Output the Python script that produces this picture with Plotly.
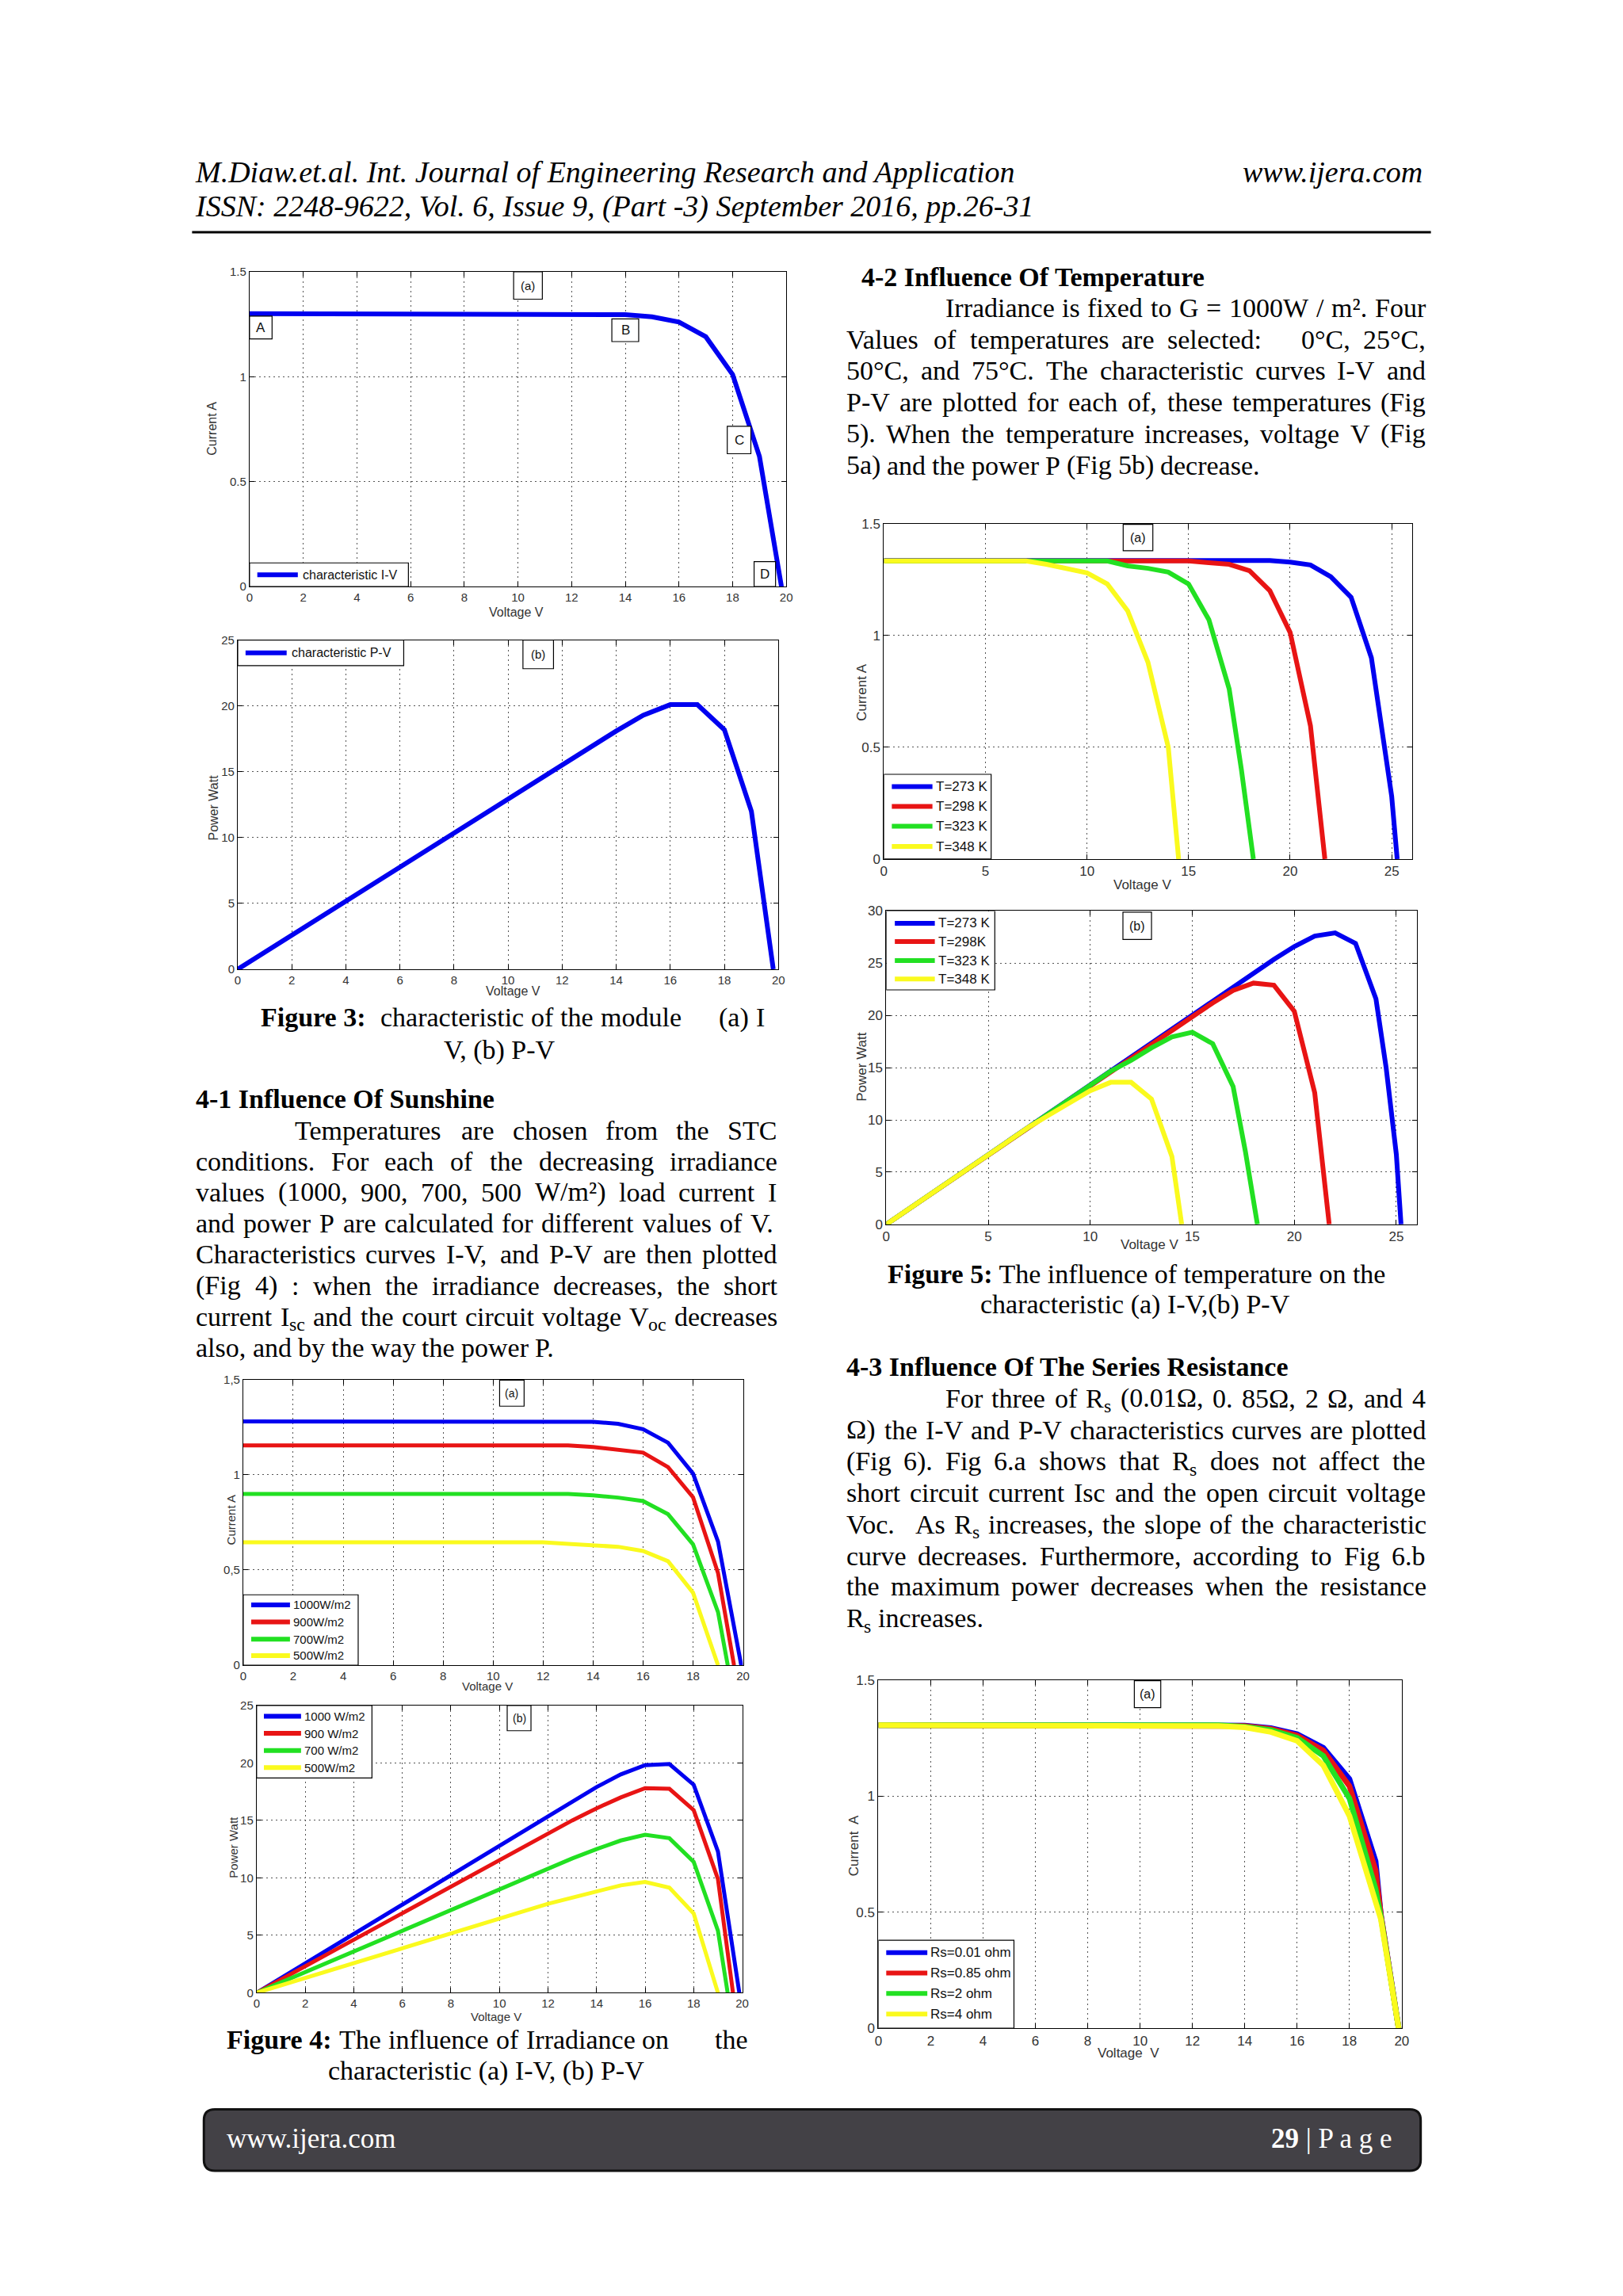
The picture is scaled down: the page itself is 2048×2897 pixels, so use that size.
import re
import plotly.graph_objects as go

W, H = 2048, 2897
SERIF = "Liberation Serif"
SANS = "Liberation Sans"
BLUE, RED, GREEN, YELLOW = "#0000f0", "#e81414", "#22e022", "#fafa1e"

# ---------------- data ----------------
# Figure 3 (a) I-V of the module
mod_iv_v = [0, 1, 2, 3, 4, 5, 6, 7, 8, 9, 10, 11, 12, 13, 14, 15, 16, 17, 18, 19, 19.82]
mod_iv_i = [1.30, 1.30, 1.30, 1.30, 1.30, 1.30, 1.30, 1.30, 1.30, 1.30, 1.30, 1.30, 1.30, 1.30,
            1.295, 1.285, 1.26, 1.19, 1.01, 0.62, 0.0]
# Figure 3 (b) P-V of the module
mod_pv_v = [0, 1, 2, 3, 4, 5, 6, 7, 8, 9, 10, 11, 12, 13, 14, 15, 16, 17, 18, 19, 19.81]
mod_pv_p = [0, 1.3, 2.6, 3.9, 5.2, 6.5, 7.8, 9.1, 10.4, 11.7, 13.0, 14.3, 15.6, 16.9,
            18.1, 19.3, 20.1, 20.1, 18.2, 12.0, 0.0]

# Figure 4 (a) I-V for irradiance
irr_labels_a = ["1000W/m2", "900W/m2", "700W/m2", "500W/m2"]
irr_iv_v_1000 = [0, 1, 2, 3, 4, 5, 6, 7, 8, 9, 10, 11, 12, 13, 14, 15, 16, 17, 18, 19, 19.93]
irr_iv_i_1000 = [1.28, 1.28, 1.28, 1.28, 1.28, 1.28, 1.28, 1.28, 1.28, 1.28, 1.28, 1.28, 1.28, 1.28,
                 1.278, 1.267, 1.239, 1.168, 1.006, 0.649, 0.0]
irr_iv_v_900 = [0, 1, 2, 3, 4, 5, 6, 7, 8, 9, 10, 11, 12, 13, 14, 15, 16, 17, 18, 19, 19.64]
irr_iv_i_900 = [1.154, 1.154, 1.154, 1.154, 1.154, 1.154, 1.154, 1.154, 1.154, 1.154, 1.154, 1.154,
                1.154, 1.154, 1.146, 1.132, 1.116, 1.04, 0.882, 0.484, 0.0]
irr_iv_v_700 = [0, 1, 2, 3, 4, 5, 6, 7, 8, 9, 10, 11, 12, 13, 14, 15, 16, 17, 18, 19, 19.39]
irr_iv_i_700 = [0.899, 0.899, 0.899, 0.899, 0.899, 0.899, 0.899, 0.899, 0.899, 0.899, 0.899, 0.899,
                0.899, 0.899, 0.892, 0.88, 0.862, 0.793, 0.635, 0.279, 0.0]
irr_iv_v_500 = [0, 1, 2, 3, 4, 5, 6, 7, 8, 9, 10, 11, 12, 13, 14, 15, 16, 17, 18, 19]
irr_iv_i_500 = [0.645, 0.645, 0.645, 0.645, 0.645, 0.645, 0.645, 0.645, 0.645, 0.645, 0.645, 0.645,
                0.645, 0.637, 0.631, 0.622, 0.60, 0.546, 0.381, 0.0]

# Figure 4 (b) P-V for irradiance
irr_labels_b = ["1000 W/m2", "900 W/m2", "700 W/m2", "500W/m2"]
irr_pv_v_1000 = [0, 1, 2, 3, 4, 5, 6, 7, 8, 9, 10, 11, 12, 13, 14, 15, 16, 17, 18, 19, 19.88]
irr_pv_p_1000 = [0, 1.28, 2.56, 3.84, 5.12, 6.4, 7.68, 8.96, 10.24, 11.52, 12.8, 14.08, 15.36, 16.64,
                 17.9, 19.0, 19.8, 19.9, 18.1, 12.3, 0.0]
irr_pv_v_900 = [0, 1, 2, 3, 4, 5, 6, 7, 8, 9, 10, 11, 12, 13, 14, 15, 16, 17, 18, 19, 19.62]
irr_pv_p_900 = [0, 1.15, 2.31, 3.46, 4.62, 5.77, 6.92, 8.08, 9.23, 10.39, 11.54, 12.69, 13.85, 15.0,
                16.05, 17.0, 17.8, 17.75, 15.9, 9.9, 0.0]
irr_pv_v_700 = [0, 1, 2, 3, 4, 5, 6, 7, 8, 9, 10, 11, 12, 13, 14, 15, 16, 17, 18, 19, 19.4]
irr_pv_p_700 = [0, 0.9, 1.8, 2.7, 3.6, 4.5, 5.39, 6.29, 7.19, 8.09, 8.99, 9.89, 10.79, 11.69,
                12.5, 13.25, 13.75, 13.45, 11.4, 5.4, 0.0]
irr_pv_v_500 = [0, 1, 2, 3, 4, 5, 6, 7, 8, 9, 10, 11, 12, 13, 14, 15, 16, 17, 18, 19]
irr_pv_p_500 = [0, 0.645, 1.29, 1.94, 2.58, 3.23, 3.87, 4.52, 5.16, 5.81, 6.45, 7.1, 7.74, 8.28,
                8.85, 9.35, 9.65, 9.15, 6.9, 0.0]

# Figure 5 (a) I-V for temperature
tmp_labels_a = ["T=273 K", "T=298 K", "T=323 K", "T=348 K"]
tmp_iv_v_273 = [0, 1, 2, 3, 4, 5, 6, 7, 8, 9, 10, 11, 12, 13, 14, 15, 16, 17, 18, 19, 20, 21, 22, 23,
                24, 24.5, 25, 25.27]
tmp_iv_i_273 = [1.335, 1.335, 1.335, 1.335, 1.335, 1.335, 1.335, 1.335, 1.335, 1.335, 1.335, 1.335,
                1.335, 1.335, 1.335, 1.335, 1.335, 1.335, 1.335, 1.335, 1.328, 1.315, 1.263, 1.171,
                0.90, 0.60, 0.28, 0.0]
tmp_iv_v_298 = [0, 1, 2, 3, 4, 5, 6, 7, 8, 9, 10, 11, 12, 13, 14, 15, 16, 17, 18, 19, 20, 21, 21.71]
tmp_iv_i_298 = [1.333, 1.333, 1.333, 1.333, 1.333, 1.333, 1.333, 1.333, 1.333, 1.333, 1.333, 1.333,
                1.333, 1.333, 1.333, 1.333, 1.325, 1.318, 1.289, 1.20, 1.013, 0.596, 0.0]
tmp_iv_v_323 = [0, 1, 2, 3, 4, 5, 6, 7, 8, 9, 10, 11, 12, 13, 14, 15, 16, 17, 17.6, 18.19]
tmp_iv_i_323 = [1.333, 1.333, 1.333, 1.333, 1.333, 1.333, 1.333, 1.333, 1.333, 1.333, 1.333, 1.333,
                1.311, 1.30, 1.283, 1.23, 1.07, 0.76, 0.40, 0.0]
tmp_iv_v_348 = [0, 1, 2, 3, 4, 5, 6, 7, 8, 9, 10, 11, 12, 13, 14, 14.51]
tmp_iv_i_348 = [1.333, 1.333, 1.333, 1.333, 1.333, 1.333, 1.333, 1.333, 1.318, 1.30, 1.28, 1.23,
                1.11, 0.88, 0.50, 0.0]

# Figure 5 (b) P-V for temperature
tmp_labels_b = ["T=273 K", "T=298K", "T=323 K", "T=348 K"]
tmp_pv_v_273 = [0, 1, 2, 3, 4, 5, 6, 7, 8, 9, 10, 11, 12, 13, 14, 15, 16, 17, 18, 19, 20, 21, 22, 23,
                24, 24.5, 25, 25.23]
tmp_pv_p_273 = [0, 1.34, 2.67, 4.01, 5.34, 6.68, 8.01, 9.35, 10.68, 12.02, 13.35, 14.69, 16.02, 17.36,
                18.69, 20.03, 21.36, 22.7, 24.03, 25.37, 26.6, 27.6, 27.9, 26.9, 21.6, 15.0, 6.7, 0.0]
tmp_pv_v_298 = [0, 1, 2, 3, 4, 5, 6, 7, 8, 9, 10, 11, 12, 13, 14, 15, 16, 17, 18, 19, 20, 21, 21.71]
tmp_pv_p_298 = [0, 1.33, 2.67, 4.0, 5.33, 6.67, 8.0, 9.33, 10.66, 12.0, 13.33, 14.66, 16.0, 17.33,
                18.66, 20.0, 21.2, 22.4, 23.1, 22.9, 20.4, 12.6, 0.0]
tmp_pv_v_323 = [0, 1, 2, 3, 4, 5, 6, 7, 8, 9, 10, 11, 12, 13, 14, 15, 16, 17, 17.6, 18.19]
tmp_pv_p_323 = [0, 1.33, 2.67, 4.0, 5.33, 6.67, 8.0, 9.33, 10.66, 12.0, 13.33, 14.66, 15.7, 16.9,
                17.95, 18.4, 17.3, 13.2, 7.0, 0.0]
tmp_pv_v_348 = [0, 1, 2, 3, 4, 5, 6, 7, 8, 9, 10, 11, 12, 13, 14, 14.48]
tmp_pv_p_348 = [0, 1.33, 2.67, 4.0, 5.33, 6.67, 8.0, 9.33, 10.5, 11.7, 12.8, 13.6, 13.6, 12.0, 6.5, 0.0]

# Figure 6 (a) I-V for series resistance
rs_labels = ["Rs=0.01 ohm", "Rs=0.85 ohm", "Rs=2 ohm", "Rs=4 ohm"]
rs_v = [0, 1, 2, 3, 4, 5, 6, 7, 8, 9, 10, 11, 12, 13, 14, 15, 16, 17, 18, 19, 19.2, 19.88]
rs_i_001 = [1.306, 1.306, 1.306, 1.306, 1.306, 1.306, 1.306, 1.306, 1.306, 1.306, 1.306, 1.306,
            1.306, 1.306, 1.305, 1.294, 1.268, 1.209, 1.074, 0.72, 0.49, 0.0]
rs_i_085 = [1.306, 1.306, 1.306, 1.306, 1.306, 1.306, 1.306, 1.306, 1.306, 1.306, 1.306, 1.306,
            1.306, 1.306, 1.303, 1.29, 1.262, 1.197, 1.044, 0.68, 0.49, 0.0]
rs_i_2 = [1.306, 1.306, 1.306, 1.306, 1.306, 1.306, 1.306, 1.306, 1.306, 1.306, 1.306, 1.306,
          1.306, 1.306, 1.30, 1.285, 1.252, 1.174, 0.991, 0.60, 0.48, 0.0]
rs_i_4 = [1.306, 1.306, 1.306, 1.306, 1.306, 1.306, 1.306, 1.306, 1.306, 1.306, 1.306, 1.306,
          1.306, 1.303, 1.297, 1.277, 1.239, 1.133, 0.915, 0.53, 0.47, 0.0]

x_ticks_20 = [0, 2, 4, 6, 8, 10, 12, 14, 16, 18, 20]
x_ticks_25 = [0, 5, 10, 15, 20, 25]
i_ticks = [0, 0.5, 1, 1.5]
i_ticks_comma = ["0", "0,5", "1", "1,5"]
p_ticks_25 = [0, 5, 10, 15, 20, 25]
p_ticks_30 = [0, 5, 10, 15, 20, 25, 30]

# ---------------- helpers ----------------
TIMES = {' ': 250, '!': 333, '"': 408, '%': 833, '&': 778, "'": 180, '(': 333, ')': 333, '+': 564,
         ',': 250, '-': 333, '.': 250, '/': 278, ':': 278, ';': 278, '=': 564, '?': 444,
         'A': 722, 'B': 667, 'C': 667, 'D': 722, 'E': 611, 'F': 556, 'G': 722, 'H': 722, 'I': 333,
         'J': 389, 'K': 722, 'L': 611, 'M': 889, 'N': 722, 'O': 722, 'P': 556, 'Q': 722, 'R': 667,
         'S': 556, 'T': 611, 'U': 722, 'V': 722, 'W': 944, 'X': 722, 'Y': 722, 'Z': 611,
         'a': 444, 'b': 500, 'c': 444, 'd': 500, 'e': 444, 'f': 333, 'g': 500, 'h': 500, 'i': 278,
         'j': 278, 'k': 500, 'l': 278, 'm': 778, 'n': 500, 'o': 500, 'p': 500, 'q': 500, 'r': 333,
         's': 389, 't': 278, 'u': 500, 'v': 500, 'w': 722, 'x': 500, 'y': 500, 'z': 444,
         '\u00b0': 400, '\u00b2': 300, '\u03a9': 768, '\u00a0': 250}
TIMES_BOLD = {'F': 611, 'i': 278, 'g': 500, 'u': 556, 'r': 444, 'e': 444, ' ': 250, '\u00a0': 250,
              ':': 333}


def text_width(s, size):
    total, scale, bold = 0.0, 1.0, False
    for part in re.split(r'(<[^>]+>)', s):
        if part.startswith('<'):
            tag = part.strip('<>/').lower()
            closing = part.startswith('</')
            if tag in ('sub', 'sup'):
                scale = 1.0 if closing else 0.7
            if tag == 'b':
                bold = not closing
            continue
        for ch in part:
            w = TIMES_BOLD.get(ch) if bold else None
            if w is None:
                w = TIMES.get(ch, 500)
            total += w * scale
    return total * size / 1000.0


fig = go.Figure()
layout = dict(width=W, height=H, margin=dict(l=0, r=0, t=0, b=0), paper_bgcolor='white',
              plot_bgcolor='white', showlegend=False)
annotations = []
shapes = []


def ax_ids(n):
    return ('x', 'y') if n == 1 else (f'x{n}', f'y{n}')


def setup_axes(n, box, xrange, xticks, yrange, yticks, yticktext=None, fsize=15):
    l, r, t, b = box
    xid, yid = ax_ids(n)
    common = dict(showline=True, linecolor='black', linewidth=1, mirror='ticks', ticks='inside',
                  ticklen=6, tickwidth=1, tickcolor='black', showgrid=True, gridcolor='#555555',
                  gridwidth=1, griddash='2px,4px', zeroline=False, fixedrange=True,
                  tickfont=dict(family=SANS, size=fsize, color='#333333'))
    layout['xaxis' if n == 1 else f'xaxis{n}'] = dict(domain=[l / W, r / W], range=xrange,
                                                      tickmode='array', tickvals=xticks,
                                                      anchor=yid, **common)
    yd = dict(domain=[1 - b / H, 1 - t / H], range=yrange, tickmode='array', tickvals=yticks,
              anchor=xid, **common)
    if yticktext:
        yd['ticktext'] = yticktext
    layout['yaxis' if n == 1 else f'yaxis{n}'] = yd


def add_line(n, xs, ys, color, name, width=6):
    xid, yid = ax_ids(n)
    fig.add_trace(go.Scatter(x=xs, y=ys, mode='lines', name=name, xaxis=xid, yaxis=yid,
                             line=dict(color=color, width=width), hoverinfo='skip'))


def ptext(x, y, s, size, anchor='left', family=SERIF, color='black', angle=0):
    annotations.append(dict(x=x / W, y=1 - y / H, xref='paper', yref='paper', text=s,
                            showarrow=False, xanchor=anchor, yanchor='middle', textangle=angle,
                            borderpad=0, font=dict(family=family, size=size, color=color)))


def atext(n, x, y, s, size, anchor='left'):
    xid, yid = ax_ids(n)
    annotations.append(dict(x=x, y=y, xref=xid, yref=yid, text=s, showarrow=False,
                            xanchor=anchor, yanchor='middle', borderpad=0,
                            font=dict(family=SANS, size=size, color='#111111')))


def legend_box(n, box, line_x, text_x, items, size):
    xid, yid = ax_ids(n)
    x0, x1, y0, y1 = box
    shapes.append(dict(type='rect', xref=xid, yref=yid, x0=x0, x1=x1, y0=y0, y1=y1,
                       fillcolor='white', line=dict(color='black', width=1.2), layer='above'))
    for label, color, yc in items:
        shapes.append(dict(type='line', xref=xid, yref=yid, x0=line_x[0], x1=line_x[1], y0=yc,
                           y1=yc, line=dict(color=color, width=6), layer='above'))
        atext(n, text_x, yc, label, size)


def tag_box(n, box, label, size):
    xid, yid = ax_ids(n)
    x0, x1, y0, y1 = box
    shapes.append(dict(type='rect', xref=xid, yref=yid, x0=x0, x1=x1, y0=y0, y1=y1,
                       fillcolor='white', line=dict(color='black', width=1.2), layer='above'))
    atext(n, (x0 + x1) / 2, (y0 + y1) / 2, label, size, anchor='center')


def place_word(w, x, y, size):
    """Draw one word; subscript parts become their own smaller, lowered text."""
    for k, seg in enumerate(re.split(r'<sub>(.*?)</sub>', w)):
        if not seg:
            continue
        if k % 2 == 1:
            ptext(x, y + 10, seg, size * 0.7)
            x += text_width(seg, size * 0.7)
        else:
            ptext(x, y, seg, size)
            x += text_width(seg, size)


def para_line(s, x0, x1, y, size=34, justify=True):
    words = s.split(' ')
    ws = [text_width(w, size) for w in words]
    if justify and len(words) > 1:
        gap = (x1 - x0 - sum(ws)) / (len(words) - 1)
    else:
        gap = text_width(' ', size)
    x = x0
    for w, wd in zip(words, ws):
        if w:
            place_word(w, x, y, size)
        x += wd + gap


# ---------------- axes boxes (left, right, top, bottom) in page pixels ----------------
BOX = {
    1: (312, 994, 336, 736),
    2: (297, 984, 804, 1222),
    3: (304, 939, 1743, 2106),
    4: (321, 938, 2157, 2522),
    5: (1118, 1789, 656, 1082),
    6: (1121, 1795, 1148, 1546),
    7: (1111, 1776, 2125, 2567),
}

setup_axes(1, BOX[1], [0, 20], x_ticks_20, [0, 1.5], i_ticks, fsize=15)
setup_axes(2, BOX[2], [0, 20], x_ticks_20, [0, 25], p_ticks_25, fsize=15)
setup_axes(3, BOX[3], [0, 20], x_ticks_20, [0, 1.5], i_ticks, yticktext=i_ticks_comma, fsize=15)
setup_axes(4, BOX[4], [0, 20], x_ticks_20, [0, 25], p_ticks_25, fsize=15)
setup_axes(5, BOX[5], [0, 26], x_ticks_25, [0, 1.5], i_ticks, fsize=17)
setup_axes(6, BOX[6], [0, 26], x_ticks_25, [0, 30], p_ticks_30, fsize=17)
setup_axes(7, BOX[7], [0, 20], x_ticks_20, [0, 1.5], i_ticks, fsize=17)

# ---------------- traces ----------------
add_line(1, mod_iv_v, mod_iv_i, BLUE, "characteristic I-V")
add_line(2, mod_pv_v, mod_pv_p, BLUE, "characteristic P-V")

add_line(3, irr_iv_v_1000, irr_iv_i_1000, BLUE, irr_labels_a[0], 5)
add_line(3, irr_iv_v_900, irr_iv_i_900, RED, irr_labels_a[1], 5)
add_line(3, irr_iv_v_700, irr_iv_i_700, GREEN, irr_labels_a[2], 5)
add_line(3, irr_iv_v_500, irr_iv_i_500, YELLOW, irr_labels_a[3], 5)

add_line(4, irr_pv_v_1000, irr_pv_p_1000, BLUE, irr_labels_b[0], 5)
add_line(4, irr_pv_v_900, irr_pv_p_900, RED, irr_labels_b[1], 5)
add_line(4, irr_pv_v_700, irr_pv_p_700, GREEN, irr_labels_b[2], 5)
add_line(4, irr_pv_v_500, irr_pv_p_500, YELLOW, irr_labels_b[3], 5)

add_line(5, tmp_iv_v_273, tmp_iv_i_273, BLUE, tmp_labels_a[0])
add_line(5, tmp_iv_v_298, tmp_iv_i_298, RED, tmp_labels_a[1])
add_line(5, tmp_iv_v_323, tmp_iv_i_323, GREEN, tmp_labels_a[2])
add_line(5, tmp_iv_v_348, tmp_iv_i_348, YELLOW, tmp_labels_a[3])

add_line(6, tmp_pv_v_273, tmp_pv_p_273, BLUE, tmp_labels_b[0])
add_line(6, tmp_pv_v_298, tmp_pv_p_298, RED, tmp_labels_b[1])
add_line(6, tmp_pv_v_323, tmp_pv_p_323, GREEN, tmp_labels_b[2])
add_line(6, tmp_pv_v_348, tmp_pv_p_348, YELLOW, tmp_labels_b[3])

add_line(7, rs_v, rs_i_001, BLUE, rs_labels[0], 7)
add_line(7, rs_v, rs_i_085, RED, rs_labels[1], 7)
add_line(7, rs_v, rs_i_2, GREEN, rs_labels[2], 7)
add_line(7, rs_v, rs_i_4, YELLOW, rs_labels[3], 7)

# ---------------- legends & tags ----------------
COLS = [BLUE, RED, GREEN, YELLOW]
legend_box(1, (0, 5.92, 0, 0.113), (0.29, 1.8), 1.95,
           [("characteristic I-V", BLUE, 0.0565)], 16)
legend_box(2, (0, 6.14, 23.07, 25), (0.29, 1.81), 1.96,
           [("characteristic P-V", BLUE, 24.03)], 16)
legend_box(3, (0, 4.6, 0, 0.37), (0.32, 1.87), 1.97,
           list(zip(irr_labels_a, COLS, [0.317, 0.227, 0.137, 0.051])), 15)
legend_box(4, (0, 4.75, 18.69, 25), (0.3, 1.83), 1.93,
           list(zip(irr_labels_b, COLS, [24.06, 22.57, 21.08, 19.59])), 15)
legend_box(5, (0, 5.28, 0, 0.379), (0.39, 2.39), 2.52,
           list(zip(tmp_labels_a, COLS, [0.324, 0.235, 0.147, 0.056])), 17)
legend_box(6, (0, 5.32, 22.45, 30), (0.42, 2.38), 2.53,
           list(zip(tmp_labels_b, COLS, [28.83, 27.07, 25.25, 23.49])), 17)
legend_box(7, (0, 5.18, 0, 0.379), (0.3, 1.87), 1.97,
           list(zip(rs_labels, COLS, [0.326, 0.238, 0.15, 0.061])), 17)

tag_box(1, (9.84, 10.91, 1.369, 1.5), "(a)", 15)
tag_box(1, (0, 0.84, 1.18, 1.288), "A", 17)
tag_box(1, (13.5, 14.5, 1.167, 1.275), "B", 17)
tag_box(1, (17.8, 18.68, 0.633, 0.764), "C", 17)
tag_box(1, (18.8, 19.6, 0, 0.119), "D", 17)
tag_box(2, (10.55, 11.68, 22.83, 25), "(b)", 15)
tag_box(3, (10.26, 11.24, 1.36, 1.497), "(a)", 14)
tag_box(4, (10.32, 11.3, 22.8, 25), "(b)", 14)
tag_box(5, (11.78, 13.24, 1.379, 1.497), "(a)", 16)
tag_box(6, (11.6, 13.0, 27.28, 29.9), "(b)", 16)
tag_box(7, (9.78, 10.79, 1.382, 1.498), "(a)", 16)

# ---------------- axis titles ----------------
GR = '#333333'
ptext(651, 769, "Voltage V", 16, 'center', SANS, GR)
ptext(264, 535, "Current A", 16, 'center', SANS, GR, -90)
ptext(647, 1250, "Voltage V", 16, 'center', SANS, GR)
ptext(266, 1017, "Power Watt", 16, 'center', SANS, GR, -90)
ptext(614, 2132, "Voltage V", 15, 'center', SANS, GR)
ptext(288, 1922, "Current A", 15, 'center', SANS, GR, -90)
ptext(625, 2552, "Voltage V", 15, 'center', SANS, GR)
ptext(292, 2337, "Power Watt", 15, 'center', SANS, GR, -90)
ptext(1446, 1115, "Voltage V", 17, 'center', SANS, GR)
ptext(1090, 871, "Current A", 17, 'center', SANS, GR, -90)
ptext(1455, 1572, "Voltage V", 17, 'center', SANS, GR)
ptext(1090, 1346, "Power Watt", 17, 'center', SANS, GR, -90)
ptext(1429, 2599, "Voltage  V", 17, 'center', SANS, GR)
ptext(1080, 2335, "Current  A", 17, 'center', SANS, GR, -90)

# ---------------- page text ----------------
ptext(242, 209, "<i>M.Diaw.et.al. Int. Journal of Engineering Research and Application</i>", 38)
ptext(1803, 209, "<i>www.ijera.com</i>", 38, 'right')
ptext(242, 253, "<i>ISSN: 2248-9622, Vol. 6, Issue 9, (Part -3) September 2016, pp.26-31</i>", 38)
shapes.append(dict(type='line', xref='paper', yref='paper', x0=239 / W, x1=1813 / W,
                   y0=1 - 286 / H, y1=1 - 286 / H, line=dict(color='black', width=3)))

L0, L1 = 243, 981
R0, R1 = 1069, 1805
IND = 126

# left column
para_line("<b>Figure\u00a03:</b>  characteristic of the module     (a) I", 325, 966, 1283)
ptext(630, 1325, "V, (b) P-V", 34, 'center')
ptext(L0, 1387, "<b>4-1 Influence Of Sunshine</b>", 34)
left_lines = [
    "Temperatures are chosen from the STC",
    "conditions. For each of the decreasing irradiance",
    "values (1000, 900, 700, 500 W/m\u00b2) load current I",
    "and power P are calculated for different values of V.",
    "Characteristics curves I-V, and P-V are then plotted",
    "(Fig 4) : when the irradiance decreases, the short",
    "current I<sub>sc</sub> and the court circuit voltage V<sub>oc</sub> decreases",
    "also, and by the way the power P.",
]
left_y = [1427, 1466, 1505, 1545, 1584, 1624, 1663, 1703]
for k, (s, y) in enumerate(zip(left_lines, left_y)):
    para_line(s, L0 + (IND if k == 0 else 0), L1, y, justify=(k < len(left_lines) - 1))

para_line("<b>Figure\u00a04:</b> The influence of Irradiance on      the", 282, 944, 2581)
ptext(613, 2621, "characteristic (a) I-V, (b) P-V", 34, 'center')

# right column
ptext(1088, 343, "<b>4-2 Influence Of Temperature</b>", 34)
right_lines = [
    "Irradiance is fixed to G = 1000W / m\u00b2. Four",
    "Values of temperatures are selected:   0\u00b0C, 25\u00b0C,",
    "50\u00b0C, and 75\u00b0C. The characteristic curves I-V and",
    "P-V are plotted for each of, these temperatures (Fig",
    "5). When the temperature increases, voltage V (Fig",
    "5a) and the power P (Fig 5b) decrease.",
]
right_y = [382, 422, 462, 502, 542, 582]
for k, (s, y) in enumerate(zip(right_lines, right_y)):
    para_line(s, R0 + (IND if k == 0 else 0), R1, y, justify=(k < len(right_lines) - 1))

ptext(1439, 1609, "<b>Figure 5:</b> The influence of temperature on the", 34, 'center')
ptext(1437, 1648, "characteristic (a) I-V,(b) P-V", 34, 'center')

ptext(R0, 1727, "<b>4-3 Influence Of The Series Resistance</b>", 34)
rs_lines = [
    "For three of R<sub>s</sub> (0.01\u03a9, 0. 85\u03a9, 2 \u03a9, and 4",
    "\u03a9) the I-V and P-V characteristics curves are plotted",
    "(Fig 6). Fig 6.a shows that R<sub>s</sub> does not affect the",
    "short circuit current Isc and the open circuit voltage",
    "Voc.  As R<sub>s</sub> increases, the slope of the characteristic",
    "curve decreases. Furthermore, according to Fig 6.b",
    "the maximum power decreases when the resistance",
    "R<sub>s</sub> increases.",
]
rs_y = [1767, 1807, 1847, 1887, 1927, 1967, 2006, 2046]
for k, (s, y) in enumerate(zip(rs_lines, rs_y)):
    para_line(s, R0 + (IND if k == 0 else 0), R1, y, justify=(k < len(rs_lines) - 1))

# footer bar
fx0, fx1 = 254 / W, 1800 / W
fy0, fy1 = 1 - 2748 / H, 1 - 2670 / H
rx, ry = 14 / W, 14 / H
path = (f"M {fx0 + rx},{fy1} L {fx1 - rx},{fy1} Q {fx1},{fy1} {fx1},{fy1 - ry} "
        f"L {fx1},{fy0 + ry} Q {fx1},{fy0} {fx1 - rx},{fy0} L {fx0 + rx},{fy0} "
        f"Q {fx0},{fy0} {fx0},{fy0 + ry} L {fx0},{fy1 - ry} Q {fx0},{fy1} {fx0 + rx},{fy1} Z")
shapes.append(dict(type='path', xref='paper', yref='paper', path=path, fillcolor='#434146',
                   line=dict(color='#111111', width=3), layer='below'))
ptext(282, 2707, "www.ijera.com", 35, 'left', SERIF, 'white')
ptext(1765, 2707, "<b>29</b> | P a g e", 35, 'right', SERIF, 'white')

layout['annotations'] = annotations
layout['shapes'] = shapes
fig.update_layout(**layout)

fig.write_html("out.html", config={'displayModeBar': False, 'staticPlot': True},
               post_script="document.body.style.margin='0';")
